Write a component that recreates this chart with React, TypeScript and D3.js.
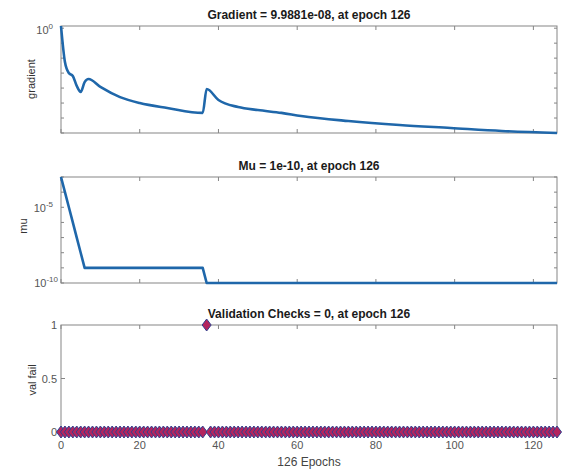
import React from "react";
import * as d3 from "d3";

// values
const gradEpochs = [0, 1, 2, 3, 4, 5, 6, 7, 10, 15, 20, 27, 36, 37, 40, 45, 50, 56, 61, 73, 86, 99, 112, 126];
const gradValues = [
  1.4, 5.5e-3, 1.0e-3, 6.4e-4, 1.4e-4, 5.5e-5, 2.5e-4, 4.0e-4, 1.2e-4, 2.5e-5, 1.0e-5, 4.7e-6,
  2.2e-6, 8.6e-5, 1.6e-5, 5.4e-6, 3.4e-6, 2.2e-6, 1.36e-6, 6.3e-7, 3.4e-7, 2.15e-7, 1.36e-7, 9.9881e-8,
];
const muEpochs = [0, 1, 2, 3, 4, 5, 6, 36, 37, 126];
const muValues = [1e-3, 1e-4, 1e-5, 1e-6, 1e-7, 1e-8, 1e-9, 1e-9, 1e-10, 1e-10];
const epochs = d3.range(0, 127);
const valFailSpike = 37;
const valFail = epochs.map((e) => (e === valFailSpike ? 1 : 0));

const xTicks = [0, 20, 40, 60, 80, 100, 120];
const titles = [
  "Gradient = 9.9881e-08, at epoch 126",
  "Mu = 1e-10, at epoch 126",
  "Validation Checks = 0, at epoch 126",
];

const W = 568;
const H = 472;
const left = 61;
const right = 557;
const panels = [
  { top: 26, bottom: 133 },
  { top: 177, bottom: 283 },
  { top: 325, bottom: 432 },
];
const axisColor = "#858585";
const lineColor = "#1f67aa";
const font = "'Liberation Sans', Arial, sans-serif";

const x = d3.scaleLinear().domain([0, 126]).range([left, right]);

const Box = ({ top, bottom }: { top: number; bottom: number }) => (
  <g>
    <rect x={left} y={top} width={right - left} height={bottom - top} fill="white" stroke={axisColor} strokeWidth={1} />
    {xTicks.map((t) => (
      <g key={t}>
        <line x1={x(t)} x2={x(t)} y1={bottom} y2={bottom - 4} stroke={axisColor} />
        <line x1={x(t)} x2={x(t)} y1={top} y2={top + 4} stroke={axisColor} />
      </g>
    ))}
  </g>
);

const YTicks = ({ ys, len }: { ys: number[]; len: number }) => (
  <g>
    {ys.map((yy, i) => (
      <g key={i}>
        <line x1={left} x2={left + len} y1={yy} y2={yy} stroke={axisColor} />
        <line x1={right} x2={right - len} y1={yy} y2={yy} stroke={axisColor} />
      </g>
    ))}
  </g>
);

const Pow = ({ xx, yy, exp }: { xx: number; yy: number; exp: string }) => (
  <text x={xx} y={yy} textAnchor="end" fontSize={11} fill="#555" fontFamily={font}>
    10
    <tspan fontSize={8} dy={-5}>{exp}</tspan>
  </text>
);

export default function App() {
  const p1 = panels[0];
  const p2 = panels[1];
  const p3 = panels[2];

  const yGrad = d3.scaleLog().domain([9.9881e-8, 1.4]).range([p1.bottom, p1.top]);
  const yMu = d3.scaleLog().domain([1e-10, 1e-3]).range([p2.bottom, p2.top]);
  const yVal = d3.scaleLinear().domain([0, 1]).range([p3.bottom, p3.top]);

  const gradLine = d3
    .line<number>()
    .x((_, i) => x(gradEpochs[i]))
    .y((d) => yGrad(d))
    .curve(d3.curveMonotoneX);
  const muLine = d3
    .line<number>()
    .x((_, i) => x(muEpochs[i]))
    .y((d) => yMu(d));

  const gradDecades = d3.range(-7, 1).map((e) => yGrad(Math.pow(10, e)));
  const muDecades = d3.range(-10, -2).map((e) => yMu(Math.pow(10, e)));

  const diamond = (cx: number, cy: number) =>
    `M${cx},${cy - 6}L${cx + 4.5},${cy}L${cx},${cy + 6}L${cx - 4.5},${cy}Z`;

  return (
    <svg width={W} height={H} style={{ position: "absolute", left: 0, top: 0, background: "white" }}>
      <rect width={W} height={H} fill="white" />

      {/* gradient */}
      <Box {...p1} />
      <YTicks ys={gradDecades} len={3} />
      <Pow xx={53} yy={yGrad(1) + 6} exp="0" />
      <path d={gradLine(gradValues) || ""} fill="none" stroke={lineColor} strokeWidth={2.6} strokeLinejoin="round" />

      {/* mu */}
      <Box {...p2} />
      <YTicks ys={muDecades} len={3} />
      <Pow xx={53} yy={yMu(1e-5) + 5} exp="-5" />
      <Pow xx={58} yy={yMu(1e-10) + 4} exp="-10" />
      <path d={muLine(muValues) || ""} fill="none" stroke={lineColor} strokeWidth={2.6} strokeLinejoin="round" />

      {/* validation checks */}
      <Box {...p3} />
      <YTicks ys={[yVal(0.5)]} len={4} />
      {[0, 0.5, 1].map((t) => (
        <text key={t} x={57} y={yVal(t) + 4} textAnchor="end" fontSize={11} fill="#555" fontFamily={font}>
          {t}
        </text>
      ))}
      {epochs.map((e, i) => (
        <path key={e} d={diamond(x(e), yVal(valFail[i]))} fill="#b3245e" stroke="#33408f" strokeWidth={1} />
      ))}
      {xTicks.map((t) => (
        <text key={t} x={x(t)} y={449} textAnchor="middle" fontSize={11} fill="#555" fontFamily={font}>
          {t}
        </text>
      ))}

      {/* titles and labels */}
      {titles.map((t, i) => (
        <text
          key={t}
          x={(left + right) / 2}
          y={panels[i].top - 7}
          textAnchor="middle"
          fontSize={12}
          fontWeight="bold"
          fill="#1a1a1a"
          fontFamily={font}
        >
          {t}
        </text>
      ))}
      <text transform="translate(35,79) rotate(-90)" textAnchor="middle" fontSize={11} fill="#333" fontFamily={font}>
        gradient
      </text>
      <text transform="translate(27,226) rotate(-90)" textAnchor="middle" fontSize={11} fill="#333" fontFamily={font}>
        mu
      </text>
      <text transform="translate(36,380) rotate(-90)" textAnchor="middle" fontSize={11} fill="#333" fontFamily={font}>
        val fail
      </text>
      <text x={(left + right) / 2} y={466} textAnchor="middle" fontSize={12} fill="#444" fontFamily={font}>
        126 Epochs
      </text>
    </svg>
  );
}
